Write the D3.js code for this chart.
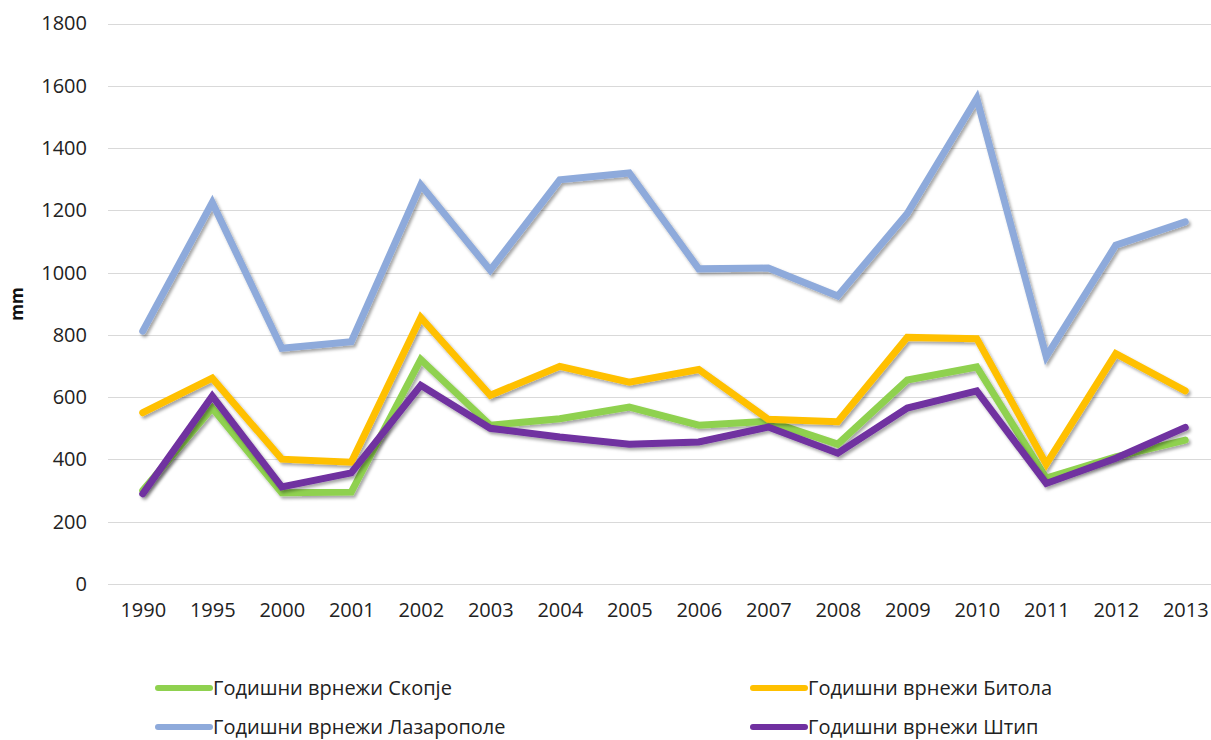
<!DOCTYPE html>
<html>
<head>
<meta charset="utf-8">
<script src="https://cdn.jsdelivr.net/npm/d3@7"></script>
<style>
  html, body { margin: 0; padding: 0; background: #fff; }
  svg { display: block; font-family: "Open Sans", "Noto Sans", sans-serif; }
</style>
</head>
<body>
<svg id="chart" width="1211" height="740"></svg>
<script>
// Annual precipitation (mm) by station
const years = ["1990","1995","2000","2001","2002","2003","2004","2005","2006","2007","2008","2009","2010","2011","2012","2013"];
const skopje     = [300, 565, 293, 295, 721, 510, 531, 568, 510, 523, 449, 655, 697, 340, 408, 462];
const bitola     = [550, 661, 401, 391, 856, 606, 699, 648, 689, 529, 521, 792, 788, 385, 740, 620];
const lazaropole = [812, 1225, 757, 778, 1282, 1008, 1298, 1320, 1012, 1015, 925, 1190, 1560, 730, 1088, 1163];
const stip       = [290, 603, 312, 357, 638, 500, 472, 449, 456, 504, 420, 565, 620, 323, 404, 503];
const yTicks = [0, 200, 400, 600, 800, 1000, 1200, 1400, 1600, 1800];

const seriesNames = ["Годишни врнежи Скопје", "Годишни врнежи Битола", "Годишни врнежи Лазарополе", "Годишни врнежи Штип"];
const seriesColors = ["#8fd14f", "#ffc000", "#8eaadb", "#7030a0"];
const seriesValues = [skopje, bitola, lazaropole, stip];

const series = seriesNames.map((name, i) => ({ name, color: seriesColors[i], values: seriesValues[i] }));

const svg = d3.select("#chart");
const plot = { left: 108, right: 1220, top: 23.5, bottom: 584 };
const fontSize = 20;

const x = d3.scalePoint().domain(years).range([plot.left, plot.right]).padding(0.5);
const y = d3.scaleLinear().domain([0, 1800]).range([plot.bottom, plot.top]);

// soft shadow under the lines
const defs = svg.append("defs");
const f = defs.append("filter").attr("id", "shadow")
  .attr("x", "-5%").attr("y", "-5%").attr("width", "110%").attr("height", "120%");
f.append("feDropShadow").attr("dx", 2).attr("dy", 2.5).attr("stdDeviation", 1.6)
  .attr("flood-color", "#000").attr("flood-opacity", 0.35);

// horizontal gridlines
svg.append("g")
  .selectAll("line").data(yTicks).join("line")
  .attr("x1", plot.left).attr("x2", 1211)
  .attr("y1", d => Math.round(y(d)) + 0.5).attr("y2", d => Math.round(y(d)) + 0.5)
  .attr("stroke", "#d9d9d9").attr("stroke-width", 1.2);

// y axis labels
const yAxis = d3.axisLeft(y).tickValues(yTicks).tickSize(0).tickPadding(0).tickFormat(d3.format("d"));
svg.append("g").attr("transform", `translate(87,0)`).call(yAxis)
  .call(g => g.select(".domain").remove())
  .call(g => g.selectAll("text").attr("font-size", fontSize).attr("fill", "#222")
    .attr("font-family", "'Open Sans', sans-serif"));

// x axis labels
const xAxis = d3.axisBottom(x).tickSize(0).tickPadding(0);
svg.append("g").attr("transform", `translate(0,603)`).call(xAxis)
  .call(g => g.select(".domain").remove())
  .call(g => g.selectAll("text").attr("font-size", fontSize).attr("fill", "#222")
    .attr("font-family", "'Open Sans', sans-serif"));

// y axis title
svg.append("text")
  .attr("transform", "translate(23,304) rotate(-90)")
  .attr("text-anchor", "middle")
  .attr("font-size", 17).attr("font-weight", "bold").attr("fill", "#111")
  .text("mm");

// lines
const line = d3.line().x((d, i) => x(years[i])).y(d => y(d));
svg.append("g").selectAll("path").data(series).join("path")
  .attr("d", d => line(d.values))
  .attr("fill", "none")
  .attr("stroke", d => d.color)
  .attr("stroke-width", 7)
  .attr("stroke-linejoin", "miter")
  .attr("stroke-linecap", "round")
  .attr("filter", "url(#shadow)");

// legend
const legendPos = [[155, 688], [750, 688], [155, 727], [750, 727]];
const lg = svg.append("g").selectAll("g").data(series).join("g")
  .attr("transform", (d, i) => `translate(${legendPos[i][0]},${legendPos[i][1]})`);
lg.append("line").attr("x1", 3).attr("x2", 55).attr("y1", 0).attr("y2", 0)
  .attr("stroke", d => d.color).attr("stroke-width", 6).attr("stroke-linecap", "round");
lg.append("text").attr("x", 58).attr("y", 0).attr("dy", "0.36em")
  .attr("font-size", fontSize).attr("fill", "#222")
  .text(d => d.name);
</script>
</body>
</html>
